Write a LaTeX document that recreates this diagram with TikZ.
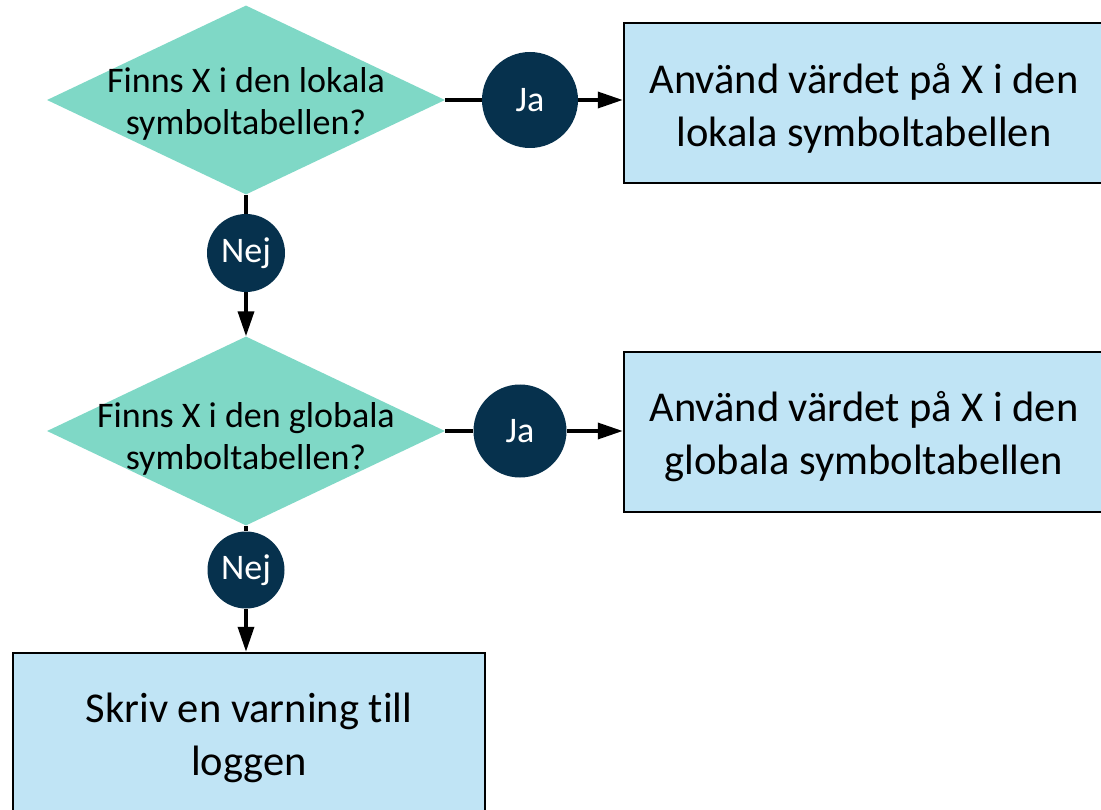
\documentclass[tikz,border=0pt]{standalone}
\usepackage{fontspec}
\setmainfont{Carlito}[Ligatures=NoCommon]
\usetikzlibrary{arrows.meta,shapes.geometric}
\definecolor{diafill}{RGB}{127,216,198}
\definecolor{navy}{RGB}{6,49,77}
\definecolor{boxfill}{RGB}{192,228,245}
\begin{document}
\begin{tikzpicture}[x=1pt,y=-1pt,
  decision/.style={diamond, fill=diafill, inner sep=0pt, minimum width=398pt, minimum height=189pt},
  dtext/.style={align=center, font=\fontsize{36}{42}\selectfont, inner sep=0pt},
  answer/.style={circle, fill=navy, inner sep=0pt, text=white, font=\fontsize{36}{40}\selectfont},
  actionbox/.style={rectangle, draw=black, line width=2.5pt, fill=boxfill, inner sep=0pt, minimum height=160pt},
  btext/.style={align=center, inner sep=0pt, font=\fontsize{42.5}{53}\selectfont},
  conn/.style={line width=3.5pt, draw=black},
  arr/.style={conn, -{Triangle[length=25pt, width=16pt]}}
]
\useasboundingbox (0,0) rectangle (1101,810);
\clip (0,0) rectangle (1101,810);

% decisions
\node[decision] (d1) at (246,100) {};
\node[dtext] (t1) at (246,104) {Finns X i den lokala\\symboltabellen?};
\node[decision] (d2) at (246,431) {};
\node[dtext] (t2) at (246,439) {Finns X i den globala\\symboltabellen?};

% answers
\node[answer, minimum size=96pt] (j1) at (530,100) {Ja};
\node[answer, minimum size=78pt] (n1) at (246,253) {Nej};
\node[answer, minimum size=93pt] (j2) at (520,431) {Ja};
\node[answer, minimum size=77pt] (n2) at (246,570) {Nej};

% action boxes
\node[actionbox, minimum width=480pt] (b1) at (864,103) {};
\node[btext] (bt1) at ([yshift=-5pt]b1.center) {Använd värdet på X i den\\lokala symboltabellen};
\node[actionbox, minimum width=480pt] (b2) at (864,432) {};
\node[btext] (bt2) at ([yshift=-5pt]b2.center) {Använd värdet på X i den\\globala symboltabellen};
\node[actionbox, minimum width=472pt] (b3) at (249,733) {};
\node[btext] (bt3) at ([yshift=-5pt]b3.center) {Skriv en varning till\\loggen};

% connectors
\draw[conn] (d1.east) -- (j1.west);
\draw[arr] (j1.east) -- (j1.east -| b1.west);
\draw[conn] (d1.south) -- (n1.north);
\draw[arr] (n1.south) -- (d2.north);
\draw[conn] (d2.east) -- (j2.west);
\draw[arr] (j2.east) -- (j2.east -| b2.west);
\draw[conn] (d2.south) -- (n2.north);
\draw[arr] (n2.south) -- (n2.south |- b3.north);
\end{tikzpicture}
\end{document}
